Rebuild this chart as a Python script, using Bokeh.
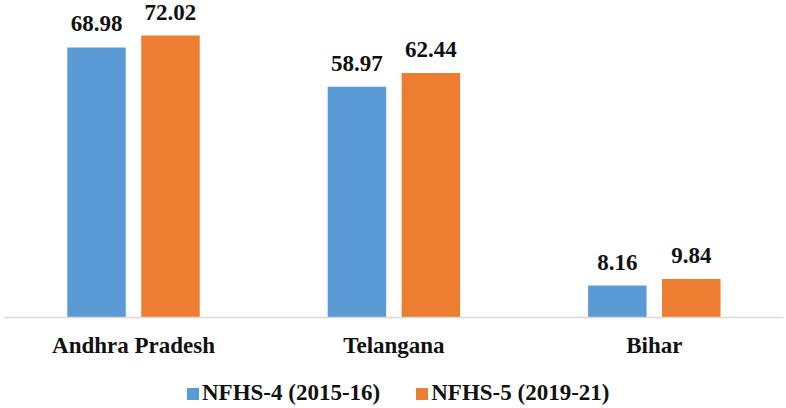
from bokeh.plotting import figure
from bokeh.models import (ColumnDataSource, Range1d, FixedTicker, LinearAxis,
                          LabelSet, Legend, LegendItem)
from bokeh.embed import file_html
from bokeh.resources import INLINE

states = ["Andhra Pradesh", "Telangana", "Bihar"]
nfhs4 = [68.98, 58.97, 8.16]
nfhs5 = [72.02, 62.44, 9.84]
series_names = ["NFHS-4 (2015-16)", "NFHS-5 (2019-21)"]
colors = ["#5B9BD5", "#ED7D31"]

FONT = "Liberation Serif"
idx = list(range(len(states)))
off = 0.142
bw = 0.2246

src4 = ColumnDataSource(dict(x=[i - off for i in idx], y=nfhs4,
                             t=[f"{v:.2f}" for v in nfhs4]))
src5 = ColumnDataSource(dict(x=[i + off for i in idx], y=nfhs5,
                             t=[f"{v:.2f}" for v in nfhs5]))

p = figure(width=786, height=408, output_backend="svg", toolbar_location=None,
           x_range=Range1d(-0.5108, 2.5077), y_range=Range1d(-23.24, 80.97),
           x_axis_location=None, y_axis_location=None,
           min_border_left=0, min_border_right=0, min_border_top=0,
           min_border_bottom=0)
p.outline_line_color = None
p.xgrid.visible = False
p.ygrid.visible = False
p.background_fill_color = "white"
p.border_fill_color = "white"

r4 = p.vbar(x="x", top="y", bottom=0, width=bw, source=src4,
            fill_color=colors[0], line_color=None)
r5 = p.vbar(x="x", top="y", bottom=0, width=bw, source=src5,
            fill_color=colors[1], line_color=None)

for s in (src4, src5):
    p.add_layout(LabelSet(x="x", y="y", text="t", source=s, y_offset=16,
                          text_align="center", text_baseline="alphabetic",
                          text_font=FONT, text_font_style="bold",
                          text_font_size="23px", text_color="#111111"))

ax = LinearAxis(ticker=FixedTicker(ticks=idx), fixed_location=0,
                bounds=(-0.4993, 2.4962),
                major_label_overrides={i: s for i, s in zip(idx, states)})
ax.axis_line_color = "#d9d9d9"
ax.axis_line_width = 1.5
ax.major_tick_line_color = None
ax.minor_tick_line_color = None
ax.major_label_standoff = 9
ax.major_label_text_font = FONT
ax.major_label_text_font_style = "bold"
ax.major_label_text_font_size = "23px"
ax.major_label_text_color = "#111111"
p.add_layout(ax, "below")

legend = Legend(items=[LegendItem(label=series_names[0], renderers=[r4]),
                       LegendItem(label=series_names[1], renderers=[r5])],
                orientation="horizontal", location=(185, 2),
                glyph_width=15, glyph_height=15, label_standoff=2, spacing=34,
                padding=0, margin=0, border_line_color=None,
                background_fill_alpha=0,
                label_text_font=FONT, label_text_font_style="bold",
                label_text_font_size="23px", label_text_color="#111111")
p.add_layout(legend, "center")

open("out.html", "w").write(file_html(p, INLINE))
